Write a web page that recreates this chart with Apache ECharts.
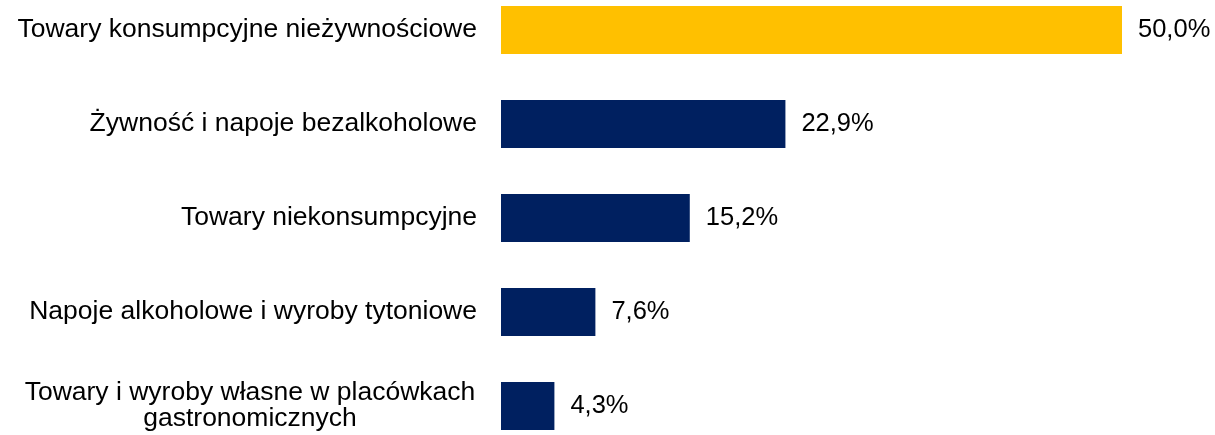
<!DOCTYPE html>
<html><head><meta charset="utf-8">
<script src="https://cdn.jsdelivr.net/npm/echarts@6/dist/echarts.min.js"></script>
<style>html,body{margin:0;padding:0;background:#fff}#c{width:1215px;height:435px}</style>
</head><body><div id="c"></div>
<script>
const categories = [
  "Towary konsumpcyjne nieżywnościowe",
  "Żywność i napoje bezalkoholowe",
  "Towary niekonsumpcyjne",
  "Napoje alkoholowe i wyroby tytoniowe",
  "Towary i wyroby własne w placówkach\ngastronomicznych"
];
const values = [50.0, 22.9, 15.2, 7.6, 4.3];
const barColors = ["#FFC000", "#002060", "#002060", "#002060", "#002060"];

const FONT = 'Liberation Sans, Arial, sans-serif';
const chart = echarts.init(document.getElementById('c'), null, {renderer: 'canvas'});
chart.setOption({
  animation: false,
  grid: {left: 501, right: 93, top: -17, height: 470, containLabel: false, outerBoundsMode: 'none'},
  xAxis: {type: 'value', min: 0, max: 50, show: false},
  yAxis: {
    type: 'category', inverse: true, data: categories,
    axisLine: {show: false}, axisTick: {show: false},
    axisLabel: {
      margin: 24, color: '#000', fontFamily: FONT, fontSize: 26.5,
      lineHeight: 26,
      formatter: function (v) {
        if (v.indexOf('\n') >= 0) {
          return v.split('\n').map(s => '{c|' + s + '}').join('\n');
        }
        return v;
      },
      rich: {c: {width: 454, align: 'center', fontSize: 26.5, lineHeight: 26, color: '#000', fontFamily: FONT}}
    }
  },
  series: [{
    type: 'bar', barWidth: 48,
    data: values.map((v, i) => ({value: v, itemStyle: {color: barColors[i]}})),
    label: {
      show: true, position: 'right', distance: 16, color: '#000',
      fontFamily: FONT, fontSize: 25.5,
      formatter: p => p.value.toFixed(1).replace('.', ',') + '%'
    }
  }]
});
</script></body></html>
